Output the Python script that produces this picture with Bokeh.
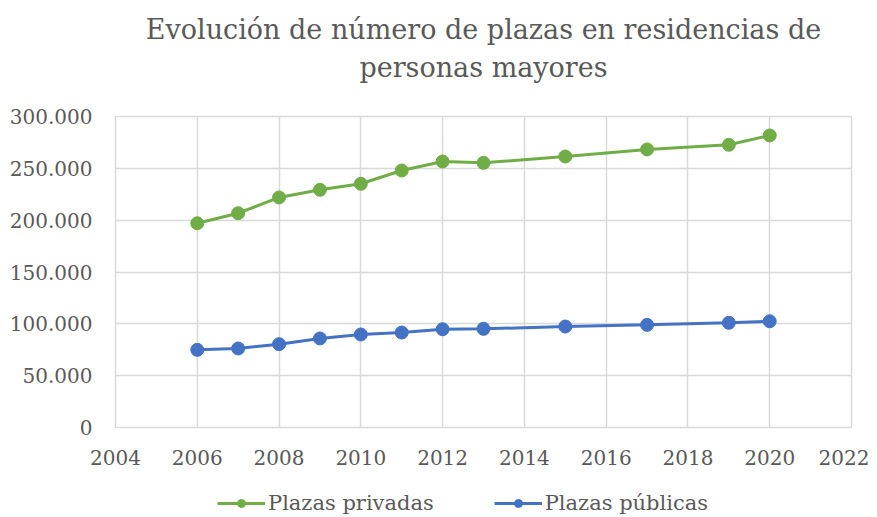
from bokeh.plotting import figure
from bokeh.layouts import column
from bokeh.models import Title, Legend, LegendItem, CustomJSTickFormatter, FixedTicker, Range1d
from bokeh.embed import file_html
from bokeh.resources import INLINE

years_priv = [2006, 2007, 2008, 2009, 2010, 2011, 2012, 2013, 2015, 2017, 2019, 2020]
plazas_privadas = [197000, 206700, 221900, 229300, 235100, 247900, 256600, 255300, 261400, 268200, 272700, 281700]
years_pub = [2006, 2007, 2008, 2009, 2010, 2011, 2012, 2013, 2015, 2017, 2019, 2020]
plazas_publicas = [74900, 76200, 80400, 85900, 89700, 91600, 94800, 95200, 97400, 99000, 101000, 102500]
x_ticks = [2004, 2006, 2008, 2010, 2012, 2014, 2016, 2018, 2020, 2022]
y_ticks = [0, 50000, 100000, 150000, 200000, 250000, 300000]
title_lines = ["Evolución de número de plazas en residencias de", "personas mayores"]
series_names = ["Plazas privadas", "Plazas públicas"]

FONT = "DejaVu Serif"
TXT = "#595959"
GREEN = "#70AD47"
BLUE = "#4472C4"

p = figure(width=869, height=473, output_backend="svg", toolbar_location=None,
           x_range=Range1d(2004, 2022), y_range=Range1d(0, 300000),
           min_border_left=115, min_border_right=18, min_border_top=116, min_border_bottom=46)

# spacer between frame and title (closest to the frame)
p.add_layout(Title(text=" ", text_font=FONT, text_font_size="27px", standoff=1), "above")
p.add_layout(Title(text=title_lines[1], align="center", text_font=FONT,
                   text_font_size="27px", text_color=TXT, text_font_style="normal",
                   standoff=0), "above")
p.add_layout(Title(text=title_lines[0], align="center",
                   text_font=FONT, text_font_size="27px", text_color=TXT,
                   text_font_style="normal", standoff=9), "above")

p.line(years_priv, plazas_privadas, line_color=GREEN, line_width=3)
p.scatter(years_priv, plazas_privadas, size=13, fill_color=GREEN, line_color=GREEN)
p.line(years_pub, plazas_publicas, line_color=BLUE, line_width=3)
p.scatter(years_pub, plazas_publicas, size=13, fill_color=BLUE, line_color=BLUE)

p.xaxis.ticker = FixedTicker(ticks=x_ticks)
p.yaxis.ticker = FixedTicker(ticks=y_ticks)
p.yaxis.formatter = CustomJSTickFormatter(code="return tick.toFixed(0).replace(/\\B(?=(\\d{3})+(?!\\d))/g, '.');")

for ax in (p.xaxis, p.yaxis):
    ax.axis_line_color = None
    ax.major_tick_line_color = None
    ax.minor_tick_line_color = None
    ax.major_label_text_font = FONT
    ax.major_label_text_font_size = "20px"
    ax.major_label_text_color = TXT
p.xaxis.major_label_standoff = 16
p.yaxis.major_label_standoff = 17

p.xgrid.grid_line_color = "#D9D9D9"
p.ygrid.grid_line_color = "#D9D9D9"
p.xgrid.grid_line_width = 1.5
p.ygrid.grid_line_width = 1.5
p.outline_line_color = "#D9D9D9"
p.outline_line_width = 1.5

# legend strip below the chart (series drawn out of view, only their legend glyphs show)
p2 = figure(width=869, height=42, output_backend="svg", toolbar_location=None,
            x_range=Range1d(0, 1), y_range=Range1d(0, 1), min_border=0)
p2.axis.visible = False
p2.grid.visible = False
p2.outline_line_color = None
l1 = p2.line(years_priv, plazas_privadas, line_color=GREEN, line_width=3)
m1 = p2.scatter(years_priv, plazas_privadas, size=9, fill_color=GREEN, line_color=GREEN)
l2 = p2.line(years_pub, plazas_publicas, line_color=BLUE, line_width=3)
m2 = p2.scatter(years_pub, plazas_publicas, size=9, fill_color=BLUE, line_color=BLUE)

legend = Legend(items=[LegendItem(label=series_names[0], renderers=[l1, m1]),
                       LegendItem(label=series_names[1], renderers=[l2, m2])],
                orientation="horizontal", location=(102, 0),
                label_text_font=FONT, label_text_font_size="21px", label_text_color=TXT,
                glyph_width=48, glyph_height=20, spacing=60, border_line_color=None,
                background_fill_alpha=0, padding=0, margin=0, label_standoff=3)
p2.add_layout(legend, "center")

layout = column(p, p2, spacing=0)
open("out.html", "w").write(file_html(layout, INLINE))
